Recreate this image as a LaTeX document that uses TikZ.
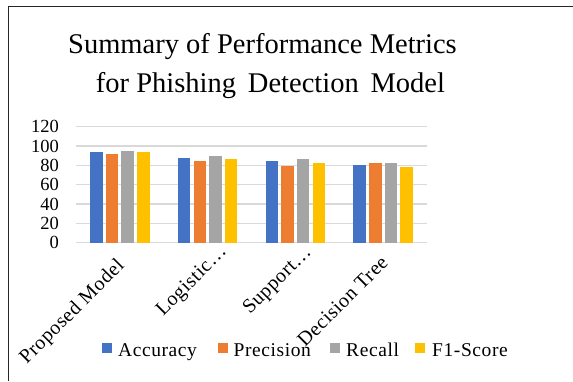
\documentclass[tikz,border=0pt]{standalone}
\usepackage{fontspec}
\setmainfont{Liberation Serif}
\definecolor{cAcc}{HTML}{4472C4}
\definecolor{cPre}{HTML}{ED7D31}
\definecolor{cRec}{HTML}{A5A5A5}
\definecolor{cF1}{HTML}{FFC000}
\definecolor{cGrid}{HTML}{D9D9D9}
\begin{document}
\begin{tikzpicture}[x=1pt,y=-1pt,
  gridline/.style={draw=cGrid,line width=1.5pt},
  ticklabel/.style={anchor=east,inner sep=0pt,font=\fontsize{18.5}{18.5}\selectfont},
  catlabel/.style={anchor=base west,rotate=45,inner sep=0pt,font=\fontsize{20}{20}\selectfont\addfontfeatures{LetterSpace=3}},
  legtext/.style={anchor=base west,inner sep=0pt,font=\fontsize{19.5}{19.5}\selectfont\addfontfeatures{LetterSpace=3}},
  titletext/.style={anchor=base,inner sep=0pt,font=\fontsize{28.5}{28.5}\selectfont}]
\useasboundingbox (0,0) rectangle (573,381);
% chart frame (left and top edges)
\draw[line width=1.4pt,black!85] (8.5,381) -- (8.5,6.5) -- (573,6.5);

% title
\node[titletext] (t1) at (262.5,53) {Summary of Performance Metrics};
\node[titletext] (t2) at (270.5,92) {for Phishing\ \,Detection\ \,Model};

% value axis: 0..120, y = 242.7 - 0.9667*v
\foreach \v in {0,20,...,120}{
  \draw[gridline] (76,{242.7-0.9667*\v}) -- (427,{242.7-0.9667*\v});
  \node[ticklabel] at (59,{242.7-0.9667*\v}) {\v};
}

% bars: group index, accuracy, precision, recall, f1
\foreach \g/\a/\p/\r/\f in {0/93.5/91.5/95/93.5, 1/88/84.5/90/86.5, 2/84.5/79/86.5/82.5, 3/80.5/82.5/82.5/78.5}{
  \pgfmathsetmacro{\cx}{76+87.75*(\g+0.5)}
  \foreach \j/\val/\col in {0/\a/cAcc, 1/\p/cPre, 2/\r/cRec, 3/\f/cF1}{
    \fill[\col] ({\cx+(\j-1.5)*15.7-6.25},242.7) rectangle ({\cx+(\j-1.5)*15.7+6.25},{242.7-0.9667*\val});
  }
}

% category labels
\node[catlabel] (c1) at (26.7,365) {Proposed Model};
\node[catlabel] (c2) at (163.3,316.7) {Logistic…};
\node[catlabel] (c3) at (250,315) {Support…};
\node[catlabel] (c4) at (305,348) {Decision Tree};

% legend
\fill[cAcc] (102,342.5) rectangle (112,352.5);
\node[legtext] (l1) at (118,356) {Accuracy};
\fill[cPre] (217.5,342.5) rectangle (227.5,352.5);
\node[legtext] (l2) at (233.5,356) {Precision};
\fill[cRec] (329.5,342.5) rectangle (339.5,352.5);
\node[legtext] (l3) at (346,356) {Recall};
\fill[cF1] (414.5,342.5) rectangle (424.5,352.5);
\node[legtext] (l4) at (432,356) {F1-Score};
\end{tikzpicture}
\end{document}
